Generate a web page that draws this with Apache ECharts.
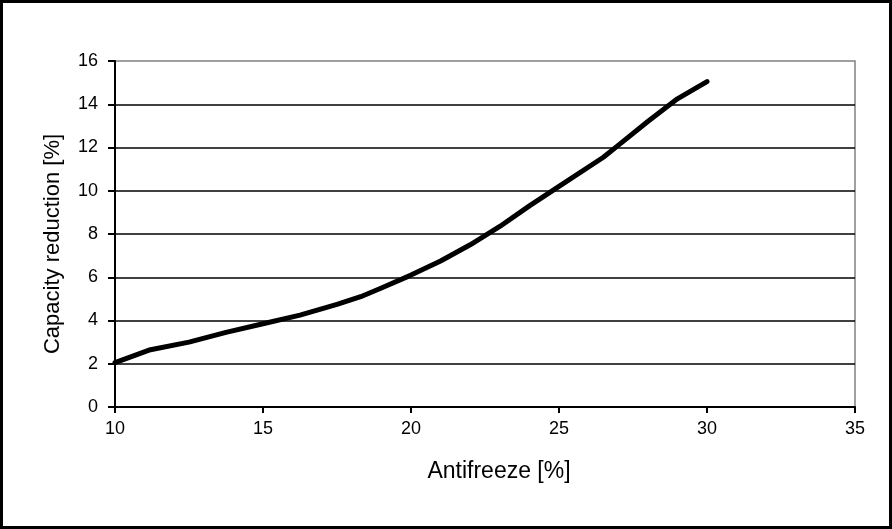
<!DOCTYPE html>
<html>
<head>
<meta charset="utf-8">
<script src="https://cdn.jsdelivr.net/npm/echarts@6/dist/echarts.min.js"></script>
<style>
html,body{margin:0;padding:0;background:#fff;}
#frame{position:absolute;left:0;top:0;width:886px;height:523px;border:3px solid #000;background:#fff;}
#chart{position:absolute;left:-3px;top:-3px;width:892px;height:529px;}
</style>
</head>
<body>
<div id="frame"><div id="chart"></div></div>
<script>
const antifreeze = [10, 11.2, 12.5, 13.75, 15, 16.25, 17.5, 18.3, 19, 20, 21, 22, 23, 24, 25, 26.5, 27, 28, 29, 30];
const capacityReduction = [2.05, 2.65, 3.0, 3.45, 3.85, 4.25, 4.75, 5.1, 5.5, 6.1, 6.75, 7.5, 8.35, 9.3, 10.2, 11.55, 12.1, 13.2, 14.25, 15.05];
const xTicks = {min: 10, max: 35, interval: 5};
const yTicks = {min: 0, max: 16, interval: 2};
const xName = 'Antifreeze [%]';
const yName = 'Capacity reduction [%]';

const chart = echarts.init(document.getElementById('chart'), null, {renderer: 'canvas'});
const font = 'Liberation Sans, Arial, sans-serif';
chart.setOption({
  animation: false,
  backgroundColor: 'transparent',
  grid: {left: 115, right: 37, top: 61, bottom: 122, show: true, borderColor: '#808080', borderWidth: 1.5, backgroundColor: 'transparent'},
  xAxis: {
    type: 'value', min: xTicks.min, max: xTicks.max, interval: xTicks.interval,
    name: xName, nameLocation: 'middle', nameGap: 53,
    nameTextStyle: {fontFamily: font, fontSize: 23, color: '#000', padding: [0, 0, 0, 28]},
    axisLine: {show: true, onZero: false, lineStyle: {color: '#000', width: 2}},
    axisTick: {show: true, length: 6, lineStyle: {color: '#000', width: 2}},
    axisLabel: {fontFamily: font, fontSize: 18, color: '#000', margin: 13},
    splitLine: {show: false}
  },
  yAxis: {
    type: 'value', min: yTicks.min, max: yTicks.max, interval: yTicks.interval,
    name: yName, nameLocation: 'middle', nameGap: 51,
    nameTextStyle: {fontFamily: font, fontSize: 22, color: '#000', padding: [0, 20, 0, 0]},
    axisLine: {show: true, lineStyle: {color: '#000', width: 2}},
    axisTick: {show: true, length: 7, lineStyle: {color: '#000', width: 2}},
    axisLabel: {fontFamily: font, fontSize: 18, color: '#000', margin: 17},
    splitLine: {show: true, showMinLine: false, showMaxLine: false, lineStyle: {color: '#000', width: 1.5}}
  },
  series: [{
    type: 'line',
    data: antifreeze.map((x, i) => [x, capacityReduction[i]]),
    showSymbol: false,
    symbol: 'none',
    lineStyle: {color: '#000', width: 5, cap: 'round', join: 'round'},
    smooth: false
  }]
});
</script>
</body>
</html>
